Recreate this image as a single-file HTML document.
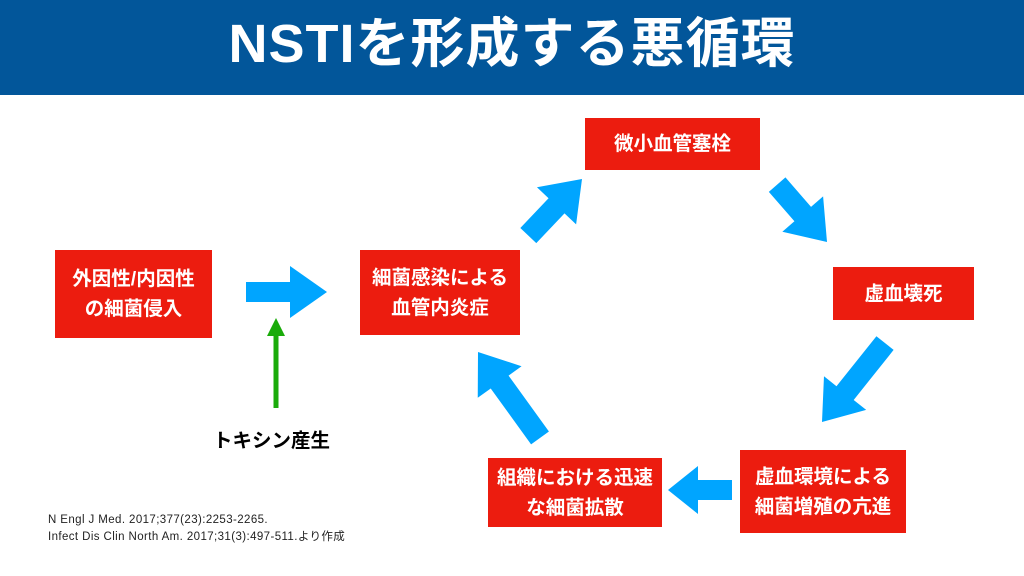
<!DOCTYPE html>
<html><head><meta charset="utf-8"><style>
body{margin:0;width:1024px;height:576px;overflow:hidden;background:#fff;font-family:"Liberation Sans","Noto Sans CJK JP",sans-serif}
.bar{position:absolute;left:0;top:0;width:1024px;height:95px;background:#02569a;color:#fff;font-weight:bold;font-size:54px;text-align:center;line-height:88px;letter-spacing:1px}
.b{position:absolute;background:#ec1c0f;color:#fff;font-weight:bold;font-size:19.5px;display:flex;align-items:center;justify-content:center;text-align:center;line-height:30px}
.t{position:absolute}
</style></head><body>
<div class="bar">NSTIを形成する悪循環</div>
<div class="b" style="left:55px;top:250px;width:157px;height:88px">外因性/内因性<br>の細菌侵入</div>
<div class="b" style="left:360px;top:250px;width:160px;height:85px">細菌感染による<br>血管内炎症</div>
<div class="b" style="left:585px;top:118px;width:175px;height:52px">微小血管塞栓</div>
<div class="b" style="left:833px;top:267px;width:141px;height:53px">虚血壊死</div>
<div class="b" style="left:740px;top:450px;width:166px;height:83px">虚血環境による<br>細菌増殖の亢進</div>
<div class="b" style="left:488px;top:458px;width:174px;height:69px">組織における迅速<br>な細菌拡散</div>
<div class="t" style="left:213px;top:424px;font-size:19.5px;font-weight:bold">トキシン産生</div>
<div class="t" style="left:48px;top:512px;font-size:11.5px;line-height:17px;color:#222;letter-spacing:0.4px">N Engl J Med. 2017;377(23):2253-2265.<br>Infect Dis Clin North Am. 2017;31(3):497-511.より作成</div>
<svg width="1024" height="576" style="position:absolute;left:0;top:0">
<g fill="#00a5ff">
<polygon points="246,282 290,282 290,266 327,292 290,318 290,302 246,302"/>
<g transform="translate(582,179) rotate(-46.5)"><polygon points="-37,-11 -37,-27 0,0 -37,27 -37,11 -78,11 -78,-11"/></g>
<g transform="translate(827,242) rotate(49)"><polygon points="-37,-11 -37,-27 0,0 -37,27 -37,11 -76,11 -76,-11"/></g>
<g transform="translate(822,422) rotate(128.6)"><polygon points="-37,-11 -37,-27 0,0 -37,27 -37,11 -101,11 -101,-11"/></g>
<g transform="translate(668,490) rotate(180)"><polygon points="-30,-10 -30,-24 0,0 -30,24 -30,10 -64,10 -64,-10"/></g>
<g transform="translate(478,352) rotate(234.2)"><polygon points="-37,-11 -37,-27 0,0 -37,27 -37,11 -106,11 -106,-11"/></g>
</g>
<polygon fill="#1aab0a" points="273.5,408 273.5,336 267,336 276,318 285,336 278.5,336 278.5,408"/>
</svg>
</body></html>
